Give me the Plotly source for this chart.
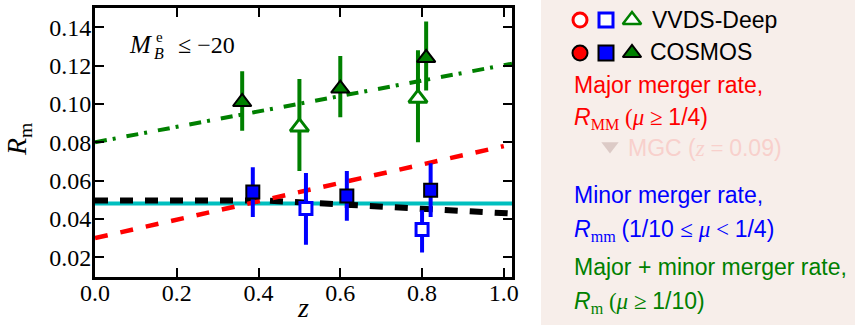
import plotly.graph_objects as go

W, H = 855, 325

# ---- merger-rate measurements -------------------------------------------
# Major + minor merger rate R_m
cosmos_z_m = [0.36, 0.60, 0.81]
cosmos_rm = [0.101, 0.108, 0.124]
cosmos_rm_hi = [0.117, 0.125, 0.143]
cosmos_rm_lo = [0.086, 0.093, 0.107]
vvds_z_m = [0.50, 0.79]
vvds_rm = [0.088, 0.103]
vvds_rm_hi = [0.113, 0.128]
vvds_rm_lo = [0.065, 0.080]

# Minor merger rate R_mm
cosmos_z_mm = [0.386, 0.616, 0.821]
cosmos_rmm = [0.054, 0.052, 0.055]
cosmos_rmm_hi = [0.067, 0.065, 0.069]
cosmos_rmm_lo = [0.041, 0.039, 0.041]
vvds_z_mm = [0.516, 0.80]
vvds_rmm = [0.0455, 0.0345]
vvds_rmm_hi = [0.064, 0.0445]
vvds_rmm_lo = [0.0265, 0.0225]

# ---- fitted relations ----------------------------------------------------
fit_z = [0.0, 1.02]
fit_rm = [0.080, 0.121]            # major + minor
fit_rmm_const = [0.048, 0.048]     # minor, constant
fit_MM_z = [0.0, 1.0]
fit_rMM = [0.030, 0.078]           # major
model_z = [0.0, 0.42, 1.02]
model_rmm = [0.0496, 0.0496, 0.0428]

x_ticks = [0.0, 0.2, 0.4, 0.6, 0.8, 1.0]
x_tick_text = ["0.0", "0.2", "0.4", "0.6", "0.8", "1.0"]
y_ticks = [0.02, 0.04, 0.06, 0.08, 0.10, 0.12, 0.14]
y_tick_text = ["0.02", "0.04", "0.06", "0.08", "0.10", "0.12", "0.14"]

RED, BLUE, GREEN, CYAN = "#ff0000", "#0000ff", "#008000", "#00bfbf"
SERIF = "Liberation Serif"
SANS = "Liberation Sans"

# plot frame in pixels
PL, PR, PT, PB = 95, 512, 7.5, 277


def err(vals, hi, lo):
    return dict(type="data", symmetric=False,
                array=[h - v for v, h in zip(vals, hi)],
                arrayminus=[v - l for v, l in zip(vals, lo)],
                thickness=4, width=0)


fig = go.Figure()

# fitted lines
fig.add_trace(go.Scatter(x=fit_z, y=fit_rmm_const, mode="lines",
                         line=dict(color=CYAN, width=4)))
fig.add_trace(go.Scatter(x=model_z, y=model_rmm, mode="lines",
                         line=dict(color="black", width=6, dash="13px,12px")))
fig.add_trace(go.Scatter(x=fit_MM_z, y=fit_rMM, mode="lines",
                         line=dict(color=RED, width=4.5, dash="13px,13px")))
fig.add_trace(go.Scatter(x=fit_z, y=fit_rm, mode="lines",
                         line=dict(color=GREEN, width=4, dash="12px,6px,3px,11px")))

# minor merger rate points
e = err(vvds_rmm, vvds_rmm_hi, vvds_rmm_lo); e["color"] = BLUE
fig.add_trace(go.Scatter(x=vvds_z_mm, y=vvds_rmm, mode="markers", error_y=e,
                         marker=dict(symbol="square", size=12, color="white",
                                     line=dict(color=BLUE, width=3))))
e = err(cosmos_rmm, cosmos_rmm_hi, cosmos_rmm_lo); e["color"] = BLUE
fig.add_trace(go.Scatter(x=cosmos_z_mm, y=cosmos_rmm, mode="markers", error_y=e,
                         marker=dict(symbol="square", size=13, color=BLUE,
                                     line=dict(color="black", width=2))))

# major + minor merger rate points
e = err(vvds_rm, vvds_rm_hi, vvds_rm_lo); e["color"] = GREEN
fig.add_trace(go.Scatter(x=vvds_z_m, y=vvds_rm, mode="markers", error_y=e,
                         marker=dict(symbol="triangle-up", size=16, color="white",
                                     line=dict(color=GREEN, width=3))))
e = err(cosmos_rm, cosmos_rm_hi, cosmos_rm_lo); e["color"] = GREEN
fig.add_trace(go.Scatter(x=cosmos_z_m, y=cosmos_rm, mode="markers", error_y=e,
                         marker=dict(symbol="triangle-up", size=16, color=GREEN,
                                     line=dict(color="black", width=2))))

# legend key symbols in the side panel (pixel coordinates)
key_x = [580, 606, 632]
key_open = [dict(symbol="circle", size=14, color="white", line=dict(color=RED, width=3)),
            dict(symbol="square", size=14, color="white", line=dict(color=BLUE, width=3)),
            dict(symbol="triangle-up", size=16, color="white", line=dict(color=GREEN, width=2.5))]
key_fill = [dict(symbol="circle", size=15, color=RED, line=dict(color="black", width=2)),
            dict(symbol="square", size=15, color=BLUE, line=dict(color="black", width=2)),
            dict(symbol="triangle-up", size=16, color=GREEN, line=dict(color="black", width=2))]
for kx, mo, mf in zip(key_x, key_open, key_fill):
    fig.add_trace(go.Scatter(x=[kx], y=[20], mode="markers", marker=mo,
                             xaxis="x2", yaxis="y2"))
    fig.add_trace(go.Scatter(x=[kx], y=[53], mode="markers", marker=mf,
                             xaxis="x2", yaxis="y2"))
fig.add_trace(go.Scatter(x=[610], y=[146], mode="markers",
                         marker=dict(symbol="triangle-down", size=15, color="#dccac6",
                                     line=dict(width=0)),
                         xaxis="x2", yaxis="y2"))

axis_common = dict(showgrid=False, zeroline=False, showline=True, linewidth=3,
                   linecolor="black", mirror="ticks", ticks="inside", ticklen=9,
                   tickwidth=1.5, tickcolor="black", automargin=False,
                   tickfont=dict(family=SERIF, size=24, color="black"))


def px(x, y):
    return x / W, 1 - y / H


annotations = []


def label(x, y, text, size=23, color="black", family=SANS, xanchor="left", **kw):
    ax, ay = px(x, y)
    annotations.append(dict(x=ax, y=ay, xref="paper", yref="paper", text=text,
                            showarrow=False, xanchor=xanchor, yanchor="middle",
                            font=dict(family=family, size=size, color=color), **kw))


serif = "<span style='font-family:Liberation Serif'>{}</span>".format

# axis titles
label(18, 140, "<i>R</i><sub>m</sub>", size=28, family=SERIF, xanchor="center",
      textangle=-90)
label(303, 307, "<i>z</i>", size=28, family=SERIF, xanchor="center")

# magnitude cut
label(154, 45, "<i>M</i>", size=25, family=SERIF, xanchor="right")
label(154, 37, "e", size=15, family=SERIF)
label(152, 54, "<i>B</i>", size=16, family=SERIF)
label(176, 45, "≤ −20", size=24, family=SERIF)

# side panel text
label(650, 20, "VVDS-Deep")
label(648, 52, "COSMOS")
label(572, 85, "Major merger rate,", color=RED)
label(572, 118, "<i>R</i>" + serif("<sub>MM</sub> (<i>μ</i> ≥ ") + "1/4)", color=RED)
label(626, 148, "MGC (" + serif("<i>z</i> = ") + "0.09)", color="#f8d0cc")
label(572, 195, "Minor merger rate,", color=BLUE)
label(572, 230, "<i>R</i>" + serif("<sub>mm</sub> ") + "(1/10 " + serif("≤ <i>μ</i> &lt; ")
      + "1/4)", color=BLUE)
label(572, 267, "Major + minor merger rate,", color=GREEN)
label(572, 302, "<i>R</i>" + serif("<sub>m</sub> (<i>μ</i> ≥ ") + "1/10)", color=GREEN)

fig.update_layout(
    width=W, height=H, margin=dict(l=0, r=0, t=0, b=0, pad=0, autoexpand=False),
    paper_bgcolor="white", plot_bgcolor="rgba(0,0,0,0)",
    showlegend=False,
    xaxis=dict(domain=[PL / W, PR / W], range=[0, 1.02], tickvals=x_ticks,
               ticktext=x_tick_text, anchor="y", ticklabelstandoff=-8, **axis_common),
    yaxis=dict(domain=[1 - PB / H, 1 - PT / H], range=[0.0097, 0.1503],
               tickvals=y_ticks, ticktext=y_tick_text, anchor="x",
               ticklabelstandoff=-4, **axis_common),
    xaxis2=dict(domain=[541 / W, 1], range=[541, 855], visible=False, anchor="y2",
                automargin=False),
    yaxis2=dict(domain=[0, 1], range=[325, 0], visible=False, anchor="x2",
                automargin=False),
    shapes=[dict(type="rect", xref="paper", yref="paper", x0=541 / W, x1=1,
                 y0=0, y1=1, fillcolor="#f7eeea", line=dict(width=0), layer="below")],
    annotations=annotations,
)

fig.write_html("out.html")
